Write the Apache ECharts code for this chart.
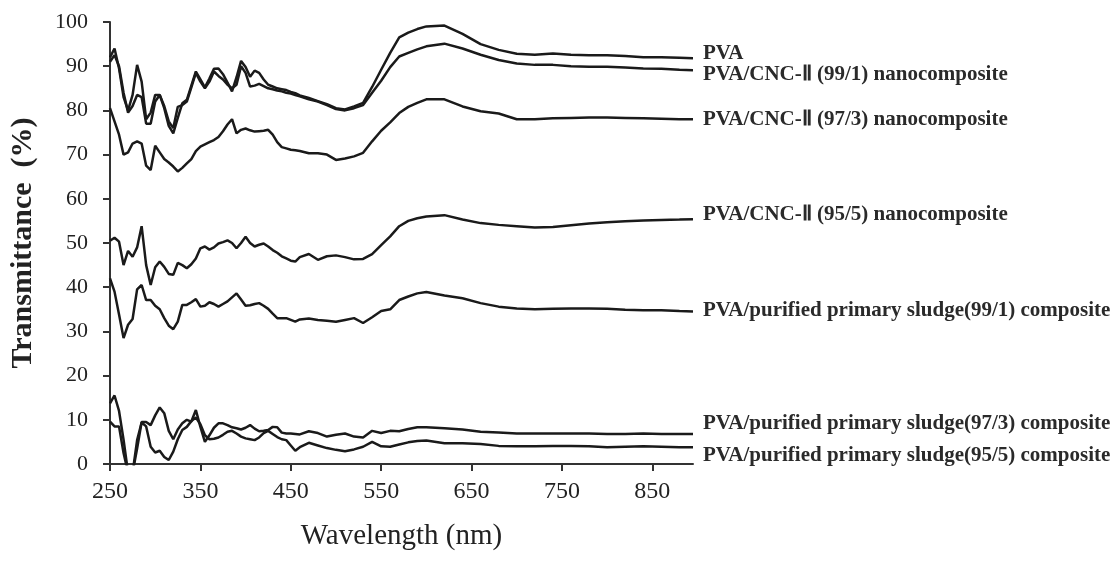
<!DOCTYPE html>
<html>
<head>
<meta charset="utf-8">
<script src="https://cdn.jsdelivr.net/npm/echarts@6/dist/echarts.min.js"></script>
<style>
html,body{margin:0;padding:0;background:#fff;}
#chart{width:1112px;height:562px;}
</style>
</head>
<body>
<div id="chart"></div>
<script>
const wavelength = [250,255,260,265,270,275,280,285,290,295,300,305,310,315,320,325,330,335,340,345,350,355,360,365,370,375,380,385,390,395,400,405,410,415,420,425,430,435,440,445,450,455,460,
  470,480,490,500,510,520,530,540,550,560,570,580,590,600,
  620,640,660,680,700,720,740,760,780,800,820,840,860,880,895];

const xTicks = [250,350,450,550,650,750,850];

const seriesNames = [
  'PVA',
  'PVA/CNC-Ⅱ (99/1) nanocomposite',
  'PVA/CNC-Ⅱ (97/3) nanocomposite',
  'PVA/CNC-Ⅱ (95/5) nanocomposite',
  'PVA/purified primary sludge(99/1) composite',
  'PVA/purified primary sludge(97/3) composite',
  'PVA/purified primary sludge(95/5) composite'
];

const pva = [92,94,89.5,83,80,83.5,90.3,86.5,78,79.5,83.5,83.5,80.5,76.5,74.8,78.3,81.6,82.4,85.6,88.8,87,85.2,87.2,89.4,89.5,88.2,86.3,84.3,87.5,91.2,89.8,87.6,89,88.5,87,85.8,85.4,85,84.8,84.6,84.2,83.9,83.4,
  82.8,82.1,81.4,80.5,80.2,80.9,81.7,85.3,89.2,93,96.5,97.6,98.4,99,
  99.2,97.3,95,93.7,92.8,92.6,92.9,92.6,92.5,92.5,92.3,92,92,91.9,91.8];

const cnc99 = [91,92.5,90,84,79.5,81,83.5,83,77,77,82,83.5,81,77.5,76,80.8,81.2,82,85.2,88.5,86.5,85,86.5,88.8,87.8,87,85.8,85,85.8,90,88.5,85.4,85.6,86,85.5,85,84.8,84.5,84.3,84,83.8,83.5,83.2,
  82.5,82,81.2,80.3,80,80.5,81.2,84,86.7,89.8,92.2,93,93.8,94.5,
  95.1,94,92.6,91.4,90.6,90.3,90.3,90,89.9,89.9,89.7,89.5,89.4,89.2,89.1];

const cnc97 = [80.5,77.5,74.5,70,70.5,72.5,73,72.5,67.5,66.5,72,70.5,69,68.2,67.3,66.2,67,68,69,70.8,71.8,72.3,72.8,73.3,74,75.3,76.8,78,74.8,75.6,75.9,75.5,75.2,75.3,75.4,75.6,74.5,72.8,71.7,71.4,71.1,71,70.8,
  70.3,70.3,70,68.8,69.1,69.6,70.4,73,75.4,77.3,79.4,80.8,81.7,82.5,
  82.5,80.9,79.8,79.3,78,78,78.2,78.3,78.4,78.4,78.3,78.2,78.1,78,78];

const cnc95 = [50.5,51.2,50.3,45,48.2,46.9,49,53.8,45,40.5,44.5,45.8,44.6,43,42.8,45.5,45,44.3,45.2,46.5,48.8,49.2,48.5,49,49.9,50.2,50.6,50,48.8,50,51.4,50,49.2,49.6,49.9,49.2,48.4,47.8,47,46.5,46,45.8,46.8,
  47.5,46.2,47,47.2,46.8,46.3,46.4,47.5,49.5,51.5,53.8,55,55.6,56,
  56.3,55.3,54.5,54.1,53.8,53.5,53.6,54,54.4,54.7,54.9,55.1,55.2,55.3,55.4];

const sludge99 = [42,39,33.8,28.5,31.5,32.8,39.5,40.5,37.1,37.1,35.8,35,33,31.3,30.5,32.2,36,36,36.6,37.3,35.6,35.8,36.6,36.2,35.6,36.2,36.8,37.7,38.6,37.2,35.8,35.9,36.2,36.4,35.8,35.1,34,33,33,33,32.6,32.2,32.7,
  32.9,32.6,32.4,32.2,32.6,33,31.9,33.2,34.6,35,37.1,37.9,38.6,38.9,
  38.1,37.5,36.4,35.6,35.2,35,35.1,35.2,35.2,35.1,34.9,34.8,34.8,34.6,34.5];

const sludge97 = [13.7,15.5,12,5.5,-2,-2,3.5,9.5,9.5,8.8,11,12.8,11.5,7.5,5.6,7.8,9.2,10,9.6,12.2,8.4,5,6.5,8.2,9.2,9.2,8.8,8.3,8.1,7.8,8.2,8.8,8,7.4,7.5,7.7,8.4,8.3,7.1,6.9,6.9,6.8,6.7,
  7.4,7,6.2,6.6,6.9,6.2,6,7.5,7,7.5,7.4,7.9,8.3,8.3,
  8.1,7.8,7.3,7.1,6.9,6.9,6.9,6.9,6.9,6.8,6.8,6.9,6.8,6.8,6.8];

const sludge95 = [9.6,8.5,8.5,2.5,-2,-2,5.4,9.4,8.5,3.9,2.6,3,1.6,0.9,2.8,5.6,7.7,8.4,9.7,10.5,9,6.5,5.6,5.7,6,6.6,7.3,7.5,6.9,6.2,5.8,5.6,5.4,6,7,7.5,6.8,6.1,5.6,5.4,4.2,3,3.8,
  4.8,4.2,3.6,3.2,2.9,3.3,3.9,5,4,3.9,4.4,4.9,5.2,5.3,
  4.7,4.7,4.5,4.1,4,4,4.1,4.1,4,3.8,3.9,4,3.9,3.8,3.8];

const allValues = [pva, cnc99, cnc97, cnc95, sludge99, sludge97, sludge95];
const labelOffsets = [[0,-5],[0,4],[0,0],[0,-5],[0,-1],[0,-10],[0,8]];

const chart = echarts.init(document.getElementById('chart'), null, {renderer:'canvas'});

const serif = '"Liberation Serif", "Times New Roman", serif';

const series = allValues.map((vals, k) => ({
  name: seriesNames[k],
  type: 'line',
  showSymbol: false,
  symbol: 'none',
  clip: true,
  smooth: false,
  data: wavelength.map((w, i) => [w, vals[i]]),
  lineStyle: { color: '#1a1a1a', width: 2.5 },
  endLabel: {
    show: true,
    formatter: seriesNames[k],
    distance: 10,
    offset: labelOffsets[k],
    fontFamily: serif,
    fontWeight: 'bold',
    fontSize: 21,
    color: '#2a2a2a'
  },
  emphasis: { disabled: true }
}));

chart.setOption({
  animation: false,
  backgroundColor: '#ffffff',
  grid: { left: 106, right: 419, top: 22, bottom: 98, containLabel: false },
  xAxis: {
    type: 'value',
    min: 250,
    max: 895,
    name: 'Wavelength (nm)',
    nameLocation: 'middle',
    nameGap: 58,
    nameTextStyle: { fontFamily: serif, fontSize: 29, color: '#222' },
    axisLine: { show: true, onZero: false, lineStyle: { color: '#333', width: 2 } },
    axisTick: { show: true, length: 7, inside: false, customValues: xTicks, lineStyle: { color: '#333', width: 2 } },
    axisLabel: { customValues: xTicks, fontFamily: serif, fontSize: 24, color: '#222', margin: 16 },
    splitLine: { show: false }
  },
  yAxis: {
    type: 'value',
    min: 0,
    max: 100,
    interval: 10,
    name: 'Transmittance  (%)',
    nameLocation: 'middle',
    nameGap: 72,
    nameRotate: 90,
    nameTextStyle: { fontFamily: serif, fontSize: 30, fontWeight: 'bold', color: '#222' },
    axisLine: { show: true, lineStyle: { color: '#333', width: 2 } },
    axisTick: { show: true, length: 7, inside: false, lineStyle: { color: '#333', width: 2 } },
    axisLabel: { fontFamily: serif, fontSize: 22, color: '#222', margin: 22 },
    splitLine: { show: false }
  },
  series: series
});
</script>
</body>
</html>
